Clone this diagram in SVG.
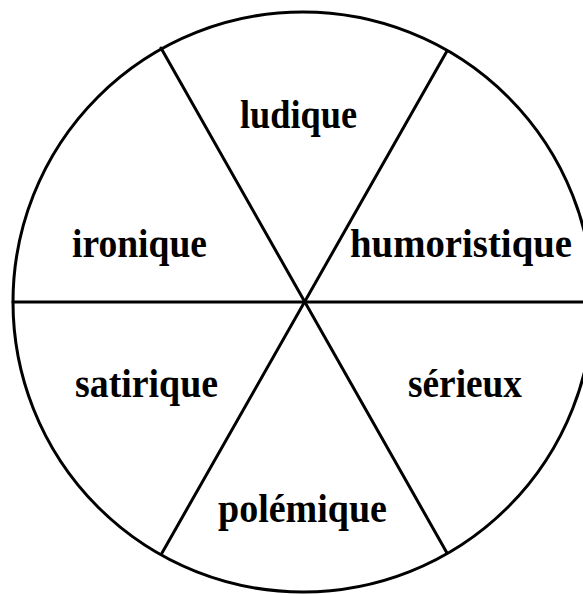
<svg xmlns="http://www.w3.org/2000/svg" width="583" height="594" viewBox="0 0 583 594">
<style>
.ln{stroke:#000;stroke-width:3;fill:none;stroke-linecap:round}
.lb{font-family:"Liberation Serif","Times New Roman",serif;font-weight:bold;font-size:39px;fill:#000}
</style>
<rect width="583" height="594" fill="#fff"/>
<g id="connectors">
<circle class="ln" cx="303" cy="302" r="290"/>
<line class="ln" x1="13" y1="302" x2="583" y2="302"/>
<line class="ln" x1="161" y1="48" x2="447" y2="553"/>
<line class="ln" x1="447" y1="51" x2="162" y2="553"/>
</g>
<g id="ludique"><text class="lb" x="240" y="128" textLength="117" lengthAdjust="spacingAndGlyphs">ludique</text></g>
<g id="ironique"><text class="lb" x="72" y="257" textLength="135" lengthAdjust="spacingAndGlyphs">ironique</text></g>
<g id="humoristique"><text class="lb" x="350" y="257" textLength="222" lengthAdjust="spacingAndGlyphs">humoristique</text></g>
<g id="satirique"><text class="lb" x="75" y="397" textLength="143" lengthAdjust="spacingAndGlyphs">satirique</text></g>
<g id="serieux"><text class="lb" x="408" y="397" textLength="114" lengthAdjust="spacingAndGlyphs">sérieux</text></g>
<g id="polemique"><text class="lb" x="218" y="522" textLength="169" lengthAdjust="spacingAndGlyphs">polémique</text></g>
</svg>
